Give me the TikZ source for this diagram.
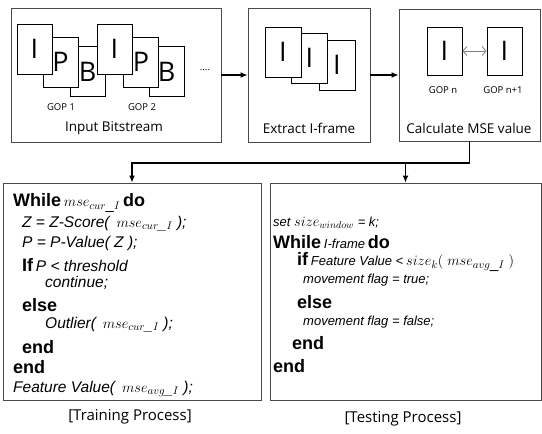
\documentclass[tikz,border=0pt]{standalone}
\usepackage{fontspec}
\setmainfont{Liberation Sans}
\newfontfamily\gothic{Open Sans}
\usepackage{xcolor}
\usepackage{tikz}
\usetikzlibrary{arrows.meta,positioning,calc}
\definecolor{boxGray}{HTML}{4A4A4A}
\definecolor{linkGray}{HTML}{808080}

\newcommand{\kw}[1]{{\fontsize{18}{20}\selectfont\bfseries #1}}
\newcommand{\st}[1]{{\fontsize{15.5}{17}\selectfont\itshape #1}}
\newcommand{\sr}[1]{{\fontsize{13}{15}\selectfont\itshape #1}}
\newcommand{\mth}[1]{{\fontsize{15}{17}\selectfont$#1$}}
\newcommand{\mtr}[1]{{\fontsize{14}{16}\selectfont$#1$}}

\begin{document}
\begin{tikzpicture}[x=1pt,y=-1pt,
  stage/.style={draw=boxGray,line width=0.9pt,inner sep=0pt},
  frame/.style={draw=black,fill=white,line width=0.8pt,inner sep=0pt,
    minimum width=35pt,minimum height=50pt,font=\gothic\fontsize{27}{27}\selectfont},
  gop/.style={font=\gothic\fontsize{9.5}{11}\selectfont},
  title/.style={font=\gothic\fontsize{13.5}{15}\selectfont},
  caption/.style={font=\gothic\fontsize{15}{17}\selectfont},
  codeline/.style={anchor=west,inner sep=0pt},
  arrow/.style={-{Latex[length=7pt,width=6pt]},line width=1.3pt},
  link/.style={{Straight Barb[length=4pt,width=9pt]}-{Straight Barb[length=4pt,width=9pt]},draw=linkGray,line width=0.8pt}
]
\useasboundingbox (0,0) rectangle (542,434);

% stages of the pipeline
\node[stage,minimum width=210pt,minimum height=134pt] (bits) at (116,75) {};
\node[stage,minimum width=122pt,minimum height=134pt] (extract) at (309,75) {};
\node[stage,minimum width=141pt,minimum height=132pt] (mse) at (469.5,75) {};
\node[stage,minimum width=258pt,minimum height=217pt] (train) at (132,291.5) {};
\node[stage,minimum width=271pt,minimum height=217pt] (test) at (405.5,291.5) {};

% GOP frames
\node[frame] (b1) at (87.5,71.5) {B};
\node[frame] (p1) at (60.5,62) {P};
\node[frame] (i1) at (34.5,49) {I};
\node[frame] (b2) at (166.5,71.5) {B};
\node[frame] (p2) at (141,62) {P};
\node[frame] (i2) at (114.5,49) {I};
\node[gop] (gop1) at (61,107) {GOP 1};
\node[gop] (gop2) at (142,107) {GOP 2};
\node[gop,anchor=base] (dots) at (205,70) {....};
\node[title] (tbits) at (114,128) {Input Bitstream};

% I-frames only
\node[frame,minimum width=36pt] (x3) at (337,65) {I};
\node[frame,minimum width=36pt] (x2) at (309.5,58) {I};
\node[frame,minimum width=36pt] (x1) at (283,52) {I};
\node[title] (textract) at (309,128) {Extract I-frame};

% neighbouring I-frames
\node[frame,minimum height=48pt] (gopn) at (444.5,51) {I};
\node[frame,minimum height=48pt] (gopm) at (504.5,51) {I};
\draw[link] (gopn.east) -- (gopm.west);
\node[gop] (lgopn) at (443,90) {GOP n};
\node[gop] (lgopm) at (503,90) {GOP n+1};
\node[title] (tmse) at (469,128) {Calculate MSE value};

% connectors
\draw[arrow] (bits.east) -- (extract.west);
\draw[arrow] (extract.east) -- (mse.west);
\coordinate (split) at (469.5,163);
\draw[line width=1.3pt] (mse.south) -- (split);
\draw[arrow] (split) -| (train.north);
\draw[arrow] (split -| test.north) -- (test.north);

% training process
\node[codeline] (t1) at (13,203) {\kw{While} \mth{mse_{cur\_I}} \kw{do}};
\node[codeline] (t2) at (22,224) {\st{Z = Z-Score(\, \mth{mse_{cur\_I}} );}};
\node[codeline] (t3) at (22,243) {\st{P = P-Value( Z );}};
\node[codeline] (t4) at (22,265) {\kw{If} \st{P < threshold}};
\node[codeline] (t5) at (45,283) {\st{continue;}};
\node[codeline] (t6) at (22,305) {\kw{else}};
\node[codeline] (t7) at (45,325) {\st{Outlier(\, \mth{mse_{cur\_I}} );}};
\node[codeline] (t8) at (22,347) {\kw{end}};
\node[codeline] (t9) at (13,367) {\kw{end}};
\node[codeline] (t10) at (13,389) {\st{Feature Value(\, \mth{mse_{avg\_I}} );}};

% testing process
\node[codeline] (s1) at (273,223) {\sr{set \mtr{size_{window}} = k;}};
\node[codeline] (s2) at (273,242) {\kw{While} \sr{I-frame} \kw{do}};
\node[codeline] (s3) at (297,262) {\kw{if} \sr{Feature Value <} {\fontsize{15.5}{17}\selectfont$size_k(\;mse_{avg\_I}\;)$}};
\node[codeline] (s4) at (303,280) {\sr{movement flag = true;}};
\node[codeline] (s5) at (297,302) {\kw{else}};
\node[codeline] (s6) at (303,322) {\sr{movement flag = false;}};
\node[codeline] (s7) at (292,343) {\kw{end}};
\node[codeline] (s8) at (273,366) {\kw{end}};

\node[caption] (ctrain) at (130,417) {[Training Process]};
\node[caption] (ctest) at (403,419) {[Testing Process]};
\end{tikzpicture}
\end{document}
